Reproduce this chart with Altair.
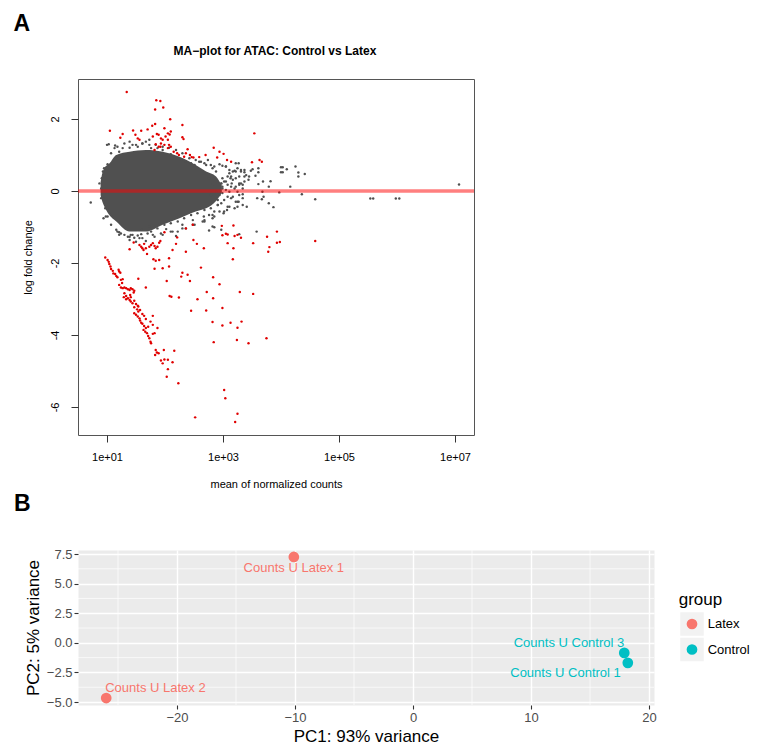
import altair as alt
import pandas as pd

FONT = "Liberation Sans"

# ---------------- Panel A: MA-plot ----------------
# x values are log10(mean of normalized counts), y values are log fold changes
# envelope of the solid, saturated part of the non-significant cloud
core_log10_mean = [0.89, 0.92, 0.95, 1.04, 1.16, 1.39, 1.67, 1.96, 2.25, 2.53, 2.71, 2.88, 2.98]
core_lfc_upper = [0.25, 0.50, 0.62, 0.76, 1.00, 1.09, 1.14, 1.09, 0.95, 0.72, 0.54, 0.40, 0.15]
core_lfc_lower = [-0.12, -0.30, -0.42, -0.67, -0.85, -1.13, -1.13, -0.94, -0.76, -0.57, -0.48, -0.28, -0.05]

gray_log10_mean = [
    5.54, 5.59, 5.98, 6.04, 7.07,
    4.59, 4.36, 4.16, 4.25, 4.30, 4.30, 4.41, 4.10, 4.00, 4.03, 4.00, 4.03, 3.97, 3.82, 3.79,
    3.69, 3.61, 3.56, 3.61, 3.61, 3.68, 3.67, 3.59, 3.70, 3.79, 3.87, 3.41, 3.48, 3.51, 3.45,
    3.44, 3.37, 3.37, 3.31, 3.34, 3.27, 3.25, 3.20, 3.07, 3.01, 3.22, 3.27, 3.17, 3.13, 3.15,
    3.22, 3.05, 3.08, 2.97, 2.99, 2.91, 2.97, 2.85, 2.76, 2.82, 2.82, 2.67,
    1.13, 1.18, 1.21, 1.30, 1.39, 1.44, 1.53, 1.61, 1.67, 1.73, 1.76, 1.82, 1.87, 1.96, 2.10,
    2.16, 2.28, 2.36, 2.45, 2.51, 2.59, 2.68, 2.74, 2.79, 2.85, 2.94, 2.99, 3.05, 3.11, 3.20,
    3.25, 3.31, 3.37, 3.14, 3.22, 3.28, 3.34, 3.02, 3.08, 2.99,
    1.01, 1.07, 0.98, 1.18, 1.24, 1.30, 1.36, 1.41, 1.47, 1.53, 1.59, 1.70, 1.76, 1.87, 1.99,
    2.10, 2.22, 2.33, 2.45, 2.56, 2.68, 2.79, 2.91, 3.02, 3.08, 3.14, 3.25, 3.28, 3.34, 2.85,
    2.68, 2.51, 2.36, 2.22, 2.10, 2.02, 1.93, 1.82, 1.61, 1.50, 1.39,
    0.72, 0.87, 1.00, 0.94, 0.90, 0.93,
    1.21, 1.44, 1.59, 1.73, 1.90, 2.19, 2.30, 2.48, 2.68, 2.82, 2.97, 3.28, 3.58,
    1.03, 1.14, 1.07, 1.01, 0.95, 0.91, 0.90, 0.93, 0.97, 1.01, 1.07, 1.16, 1.21, 1.39, 1.56,
    1.67, 1.79, 1.96, 2.13, 2.30, 2.48, 2.65, 2.76, 2.85, 2.94, 3.11, 3.22, 3.34, 3.20, 3.28,
    3.37, 3.31, 3.22, 3.11, 3.05, 2.99, 2.88, 2.82, 2.71, 2.62, 2.53, 2.42, 2.30, 2.19, 2.07,
    1.96, 1.84, 1.73, 1.61, 1.50, 1.39, 1.27,
    2.76, 2.82, 2.88, 2.94, 2.99, 3.05, 3.11, 3.17, 2.82, 2.91, 3.02, 3.08, 3.17, 3.25, 3.34,
    3.40, 2.79, 2.97, 3.14, 3.28,
]
gray_lfc = [
    -0.21, -0.21, -0.21, -0.21, 0.18,
    -0.23, -0.09, 0.12, 0.68, 0.51, 0.40, 0.47, 0.60, 0.66, 0.66, 0.52, 0.52, -0.04, 0.27, 0.12,
    0.26, 0.19, 0.42, 0.52, 0.63, -0.02, -0.23, -0.20, -0.16, -0.34, -0.45, -0.44, 0.56, 0.60, 0.40,
    0.31, 0.58, 0.40, 0.21, -0.09, -0.30, -0.44, -0.48, -0.53, -0.62, 0.77, 0.77, 0.54, 0.35, 0.21,
    0.12, 0.03, -0.16, 0.21, -0.06, -0.25, -0.34, -1.01, -1.10, -0.67, -0.76, -0.71,
    1.19, 1.23, 1.09, 1.32, 1.37, 1.28, 1.23, 1.32, 1.37, 1.42, 1.19, 1.09, 1.19, 1.14, 1.02,
    0.95, 0.86, 0.81, 0.77, 0.72, 0.81, 0.77, 0.86, 0.72, 0.68, 0.74, 0.70, 0.68, 0.58, 0.56,
    0.63, 0.54, 0.52, 0.40, 0.35, 0.21, 0.17, 0.26, 0.17, 0.12,
    -0.48, -0.67, -0.71, -1.13, -1.18, -1.22, -1.27, -1.22, -1.30, -1.24, -1.20, -1.18, -1.13, -1.04, -0.94,
    -0.90, -0.85, -0.76, -0.67, -0.62, -0.53, -0.48, -0.39, -0.57, -0.44, -0.20, -0.30, -0.11, -0.39, -0.71,
    -0.85, -0.94, -1.04, -1.13, -1.13, -1.06, -1.18, -1.27, -1.31, -1.41, -1.36,
    -0.32, 0.21, 1.28, -0.76, -0.20, 0.54,
    -1.15, -1.22, -1.08, -0.99, -0.90, -1.25, -0.94, -0.81, -0.81, -0.99, -1.08, -1.20, -1.13,
    1.30, 1.26, 1.05, 0.74, 0.63, 0.35, 0.07, -0.20, -0.48, -0.71, -0.94, -1.08, -1.22, -1.27, -1.31,
    -1.39, -1.22, -1.22, -1.13, -1.04, -0.94, -0.85, -0.67, -0.57, -0.57, -0.44, -0.30, -0.20, 0.07, 0.17,
    0.26, 0.58, 0.54, 0.49, 0.68, 0.35, 0.54, 0.63, 0.72, 0.81, 0.86, 0.91, 1.05, 1.14, 1.20,
    1.23, 1.28, 1.28, 1.32, 1.28, 1.20, 1.19,
    0.35, 0.17, -0.02, -0.11, 0.07, 0.26, -0.02, -0.16, -0.30, -0.39, -0.25, 0.40, 0.31, -0.02, 0.07,
    0.44, -0.11, 0.21, 0.12, 0.40,
]

red_log10_mean = [
    # diagonal band of strongly reduced peaks
    0.97, 1.01, 1.03, 1.04, 1.06, 1.07, 1.10, 1.11, 1.14, 1.16, 1.18, 1.20, 1.21, 1.23, 1.24,
    1.26, 1.27, 1.21, 1.24, 1.27, 1.30, 1.33, 1.36, 1.39, 1.41, 1.44, 1.47, 1.46, 1.30, 1.33,
    1.36, 1.39, 1.41, 1.44, 1.47, 1.50, 1.53, 1.52, 1.54, 1.47, 1.50, 1.53, 1.56, 1.57, 1.59,
    1.61, 1.64, 1.67, 1.63, 1.66, 1.69, 1.71, 1.73, 1.75, 1.76, 1.79, 1.82, 1.87, 1.71, 1.79,
    1.67, 1.75, 1.79, 1.41, 1.40, 1.29, 1.33, 1.47, 1.54, 1.57, 1.61, 1.64, 1.54, 1.67, 1.84,
    1.86, 1.89, 1.83, 1.93, 1.96, 1.99, 2.05, 2.13, 2.16, 1.98, 2.05, 2.03, 2.23,
    # scattered reduced peaks
    1.46, 1.39, 1.56, 1.59, 1.61, 1.64, 1.63, 1.69, 1.67, 1.73, 1.76, 1.79, 1.82, 1.84, 1.87,
    1.90, 1.92, 1.80, 1.84, 1.90, 1.82, 1.96, 2.07, 2.07, 2.13, 1.99, 2.19, 2.21, 2.36, 2.48,
    2.49, 2.55, 2.36, 2.67, 2.62, 2.83, 2.94, 2.28, 2.30, 2.39, 2.43, 2.03, 2.08, 2.11, 2.24,
    2.45, 2.56, 2.72, 2.83, 2.71, 2.82, 2.99, 2.99, 3.13, 3.25, 3.32, 3.29, 3.52, 3.24, 3.44,
    3.75, 2.84, 2.98, 3.18, 2.99, 3.05, 3.08, 3.20, 3.25, 3.31, 3.08, 3.18, 3.17, 3.52, 3.76,
    3.78, 3.80, 3.93, 3.93, 3.98, 4.59, 3.02, 3.04, 2.52, 3.25, 3.21,
    # increased peaks
    1.34, 1.85, 1.92, 1.83, 1.97, 2.09, 2.30, 1.05, 1.27, 1.23, 1.45, 1.49, 1.53, 1.56, 1.59,
    1.70, 1.78, 1.83, 1.86, 1.79, 1.89, 1.93, 1.99, 2.05, 2.08, 2.10, 2.01, 2.05, 1.96, 1.93,
    1.84, 1.89, 1.92, 1.82, 1.99, 2.07, 2.05, 2.10, 2.15, 2.21, 2.24, 2.30, 2.32, 2.39, 2.36,
    2.33, 2.43, 2.46, 2.49, 2.59, 2.70, 2.84, 2.94, 3.01, 2.90, 3.07, 3.14, 3.54, 3.50, 3.63,
    3.67,
]
red_lfc = [
    -1.85, -1.92, -1.97, -2.03, -2.10, -2.17, -2.22, -2.29, -2.31, -2.36, -2.40, -2.19, -2.24, -2.27, -2.47,
    -2.56, -2.45, -2.61, -2.68, -2.70, -2.68, -2.70, -2.73, -2.75, -2.70, -2.73, -2.77, -2.82, -2.84, -2.92,
    -2.98, -3.03, -3.07, -3.12, -3.05, -3.14, -3.19, -3.29, -3.35, -3.40, -3.44, -3.49, -3.54, -3.60, -3.66,
    -3.69, -3.75, -3.81, -3.86, -3.91, -3.95, -4.03, -4.09, -4.19, -4.23, -3.97, -3.95, -3.81, -3.77, -3.72,
    -3.56, -3.63, -3.47, -2.95, -2.89, -2.95, -3.01, -3.23, -3.21, -3.31, -3.42, -3.47, -2.44, -2.68, -4.42,
    -4.49, -4.51, -4.56, -4.71, -4.79, -4.68, -4.69, -4.76, -4.44, -4.42, -4.95, -5.16, -5.34,
    -1.43, -1.62, -1.50, -1.55, -1.59, -1.47, -1.64, -1.75, -1.59, -1.55, -1.50, -1.45, -1.53, -1.59, -1.55,
    -1.44, -1.39, -1.90, -1.94, -1.92, -2.16, -2.15, -2.10, -1.87, -1.64, -1.15, -1.47, -1.29, -1.04, -0.94,
    -1.36, -1.47, -1.69, -1.59, -2.13, -2.40, -2.59, -2.38, -2.27, -2.33, -2.50, -2.50, -2.92, -2.94, -2.96,
    -3.33, -3.01, -2.81, -2.98, -3.32, -3.64, -3.74, -3.25, -3.66, -3.80, -3.63, -2.81, -2.86, -4.14, -4.23,
    -4.09, -4.20, -0.97, -0.96, -1.23, -1.19, -1.21, -1.25, -1.22, -1.30, -1.45, -1.59, -1.90, -1.45, -1.27,
    -1.69, -1.56, -1.13, -1.44, -1.42, -1.39, -5.53, -5.76, -6.29, -6.19, -6.42,
    2.75, 2.52, 2.50, 2.26, 2.32, 1.99, 1.83, 1.67, 1.58, 1.48, 1.68, 1.56, 1.46, 1.42, 1.67,
    1.71, 1.81, 1.86, 1.58, 1.51, 1.56, 1.46, 1.74, 1.60, 1.57, 1.65, 1.51, 1.42, 1.42, 1.32,
    1.30, 1.23, 1.23, 1.14, 1.28, 1.28, 1.19, 1.23, 1.09, 1.05, 1.00, 1.49, 1.44, 1.16, 1.05,
    0.95, 1.00, 0.94, 0.93, 0.94, 1.00, 1.20, 1.09, 1.03, 0.93, 0.86, 0.81, 1.60, 0.80, 0.86,
    0.81,
]

a_x_ticks = [1, 3, 5, 7]
a_y_ticks = [-6, -4, -2, 0, 2]
a_title = "MA\u2212plot for ATAC: Control vs Latex"
a_xlabel = "mean of normalized counts"
a_ylabel = "log fold change"

# ---------------- Panel B: PCA ----------------
samples = ["Counts U Latex 1", "Counts U Latex 2", "Counts U Control 3", "Counts U Control 1"]
sample_groups = ["Latex", "Latex", "Control", "Control"]
pc1 = [-10.1, -26.0, 17.9, 18.2]
pc2 = [7.25, -4.66, -0.85, -1.69]
groups = ["Latex", "Control"]
group_colors = ["#F8766D", "#00BFC4"]
b_x_major = [-20, -10, 0, 10, 20]
b_x_minor = [-25, -15, -5, 5, 15]
b_y_major = [-5, -2.5, 0, 2.5, 5, 7.5]
b_y_minor = [-3.75, -1.25, 1.25, 3.75, 6.25]
b_xlabel = "PC1: 93% variance"
b_ylabel = "PC2: 5% variance"

A_W, A_H = 396, 356
B_W, B_H = 576, 155

# ================= Panel A =================
core_df = pd.DataFrame({"m": core_log10_mean, "hi": core_lfc_upper, "lo": core_lfc_lower})
gray_df = pd.DataFrame({"m": gray_log10_mean, "lfc": gray_lfc})
red_df = pd.DataFrame({"m": red_log10_mean, "lfc": red_lfc})

xa_scale = alt.Scale(domain=[0.50, 7.328], nice=False, zero=False)
ya_scale = alt.Scale(domain=[-6.78, 3.11], nice=False, zero=False)
xa_axis = alt.Axis(values=a_x_ticks, labelExpr="'1e+0' + datum.value", title=a_xlabel,
                   grid=False, domain=False, ticks=True, tickSize=7, tickColor="#333333", tickWidth=1,
                   labelFont=FONT, labelFontSize=11, labelColor="black", labelPadding=9,
                   titleFont=FONT, titleFontSize=11, titleFontWeight="normal", titleColor="black",
                   titlePadding=16)
ya_axis = alt.Axis(values=a_y_ticks, labelExpr="'' + datum.value", title=a_ylabel,
                   grid=False, domain=False, ticks=True, tickSize=7, tickColor="#333333", tickWidth=1,
                   labelFont=FONT, labelFontSize=11, labelColor="black", labelPadding=11,
                   labelAngle=270, labelAlign="center", labelBaseline="bottom",
                   titleFont=FONT, titleFontSize=11, titleFontWeight="normal", titleColor="black",
                   titlePadding=15.5)

core = alt.Chart(core_df).mark_area(color="#505050", interpolate="monotone").encode(
    x=alt.X("m:Q", scale=xa_scale, axis=xa_axis),
    y=alt.Y("hi:Q", scale=ya_scale, axis=ya_axis),
    y2="lo:Q",
)
gray_pts = alt.Chart(gray_df).mark_circle(color="#505050", size=6, opacity=1).encode(
    x=alt.X("m:Q", scale=xa_scale, axis=xa_axis),
    y=alt.Y("lfc:Q", scale=ya_scale, axis=ya_axis),
)
red_pts = alt.Chart(red_df).mark_circle(color="#E00000", size=6, opacity=1).encode(
    x=alt.X("m:Q", scale=xa_scale, axis=xa_axis),
    y=alt.Y("lfc:Q", scale=ya_scale, axis=ya_axis),
)
zero_line = alt.Chart(pd.DataFrame({"lfc": [0]})).mark_rule(
    color="#FF0000", opacity=0.5, strokeWidth=3.5).encode(
    y=alt.Y("lfc:Q", scale=ya_scale, axis=ya_axis),
)
a_title_txt = alt.Chart(pd.DataFrame({"t": [a_title]})).mark_text(
    font=FONT, fontSize=12, fontWeight="bold", align="center", baseline="alphabetic", color="black"
).encode(text="t:N", x=alt.value(197), y=alt.value(-24))
a_letter = alt.Chart(pd.DataFrame({"t": ["A"]})).mark_text(
    font=FONT, fontSize=23, fontWeight="bold", align="center", baseline="alphabetic", color="black"
).encode(text="t:N", x=alt.value(-56.3), y=alt.value(-48.3))

panel_a = alt.layer(core, gray_pts, red_pts, zero_line, a_title_txt, a_letter).properties(
    width=A_W, height=A_H,
    view=alt.ViewBackground(stroke="#555555", strokeWidth=1, fill="white"),
)

# ================= Panel B =================
pca_df = pd.DataFrame({"sample": samples, "group": sample_groups, "PC1": pc1, "PC2": pc2})
xb_scale = alt.Scale(domain=[-28.39, 20.42], nice=False, zero=False)
yb_scale = alt.Scale(domain=[-5.25, 7.84], nice=False, zero=False)
color_scale = alt.Scale(domain=groups, range=group_colors)

common_b = dict(domain=False, ticks=True, tickSize=4, tickColor="#333333", tickWidth=1.1,
                grid=True, gridColor="white", gridWidth=1.4,
                labelFont=FONT, labelFontSize=13, labelColor="#4D4D4D",
                titleFont=FONT, titleFontSize=17, titleFontWeight="normal", titleColor="black")
xb_axis = alt.Axis(values=b_x_major, format="d", title=b_xlabel, labelPadding=2.7, titlePadding=3.9, **common_b)
yb_axis = alt.Axis(values=b_y_major, format=".1f", title=b_ylabel, labelPadding=2, titlePadding=3.4, **common_b)

xb = alt.X("PC1:Q", scale=xb_scale, axis=xb_axis)
yb = alt.Y("PC2:Q", scale=yb_scale, axis=yb_axis)

minor_x = alt.Chart(pd.DataFrame({"PC1": b_x_minor})).mark_rule(color="white", strokeWidth=0.7).encode(x=xb)
minor_y = alt.Chart(pd.DataFrame({"PC2": b_y_minor})).mark_rule(color="white", strokeWidth=0.7).encode(y=yb)
pts_b = alt.Chart(pca_df).mark_circle(size=115, opacity=1).encode(
    x=xb, y=yb, color=alt.Color("group:N", scale=color_scale, legend=None))

label_style = {
    "Counts U Latex 1": dict(align="center", dx=0, dy=11),
    "Counts U Latex 2": dict(align="left", dx=-1, dy=-10),
    "Counts U Control 3": dict(align="right", dx=0, dy=-10),
    "Counts U Control 1": dict(align="right", dx=-7, dy=10),
}
label_layers = []
for s in samples:
    st = label_style[s]
    label_layers.append(
        alt.Chart(pca_df).transform_filter(alt.datum.sample == s).mark_text(
            font=FONT, fontSize=13, baseline="middle", **st
        ).encode(x=xb, y=yb, text="sample:N",
                 color=alt.Color("group:N", scale=color_scale, legend=None))
    )

plot_b = alt.layer(minor_x, minor_y, pts_b, *label_layers)

# legend built from the group list
leg_df = pd.DataFrame({"group": groups})
leg_y = alt.Y("group:N", scale=alt.Scale(domain=groups, type="point", range=[74, 99.5], padding=0), axis=None)
leg_keys = alt.Chart(leg_df).mark_square(size=552, color="#F2F2F2", opacity=1).encode(
    x=alt.value(614), y=leg_y)
leg_dots = alt.Chart(leg_df).mark_circle(size=115, opacity=1).encode(
    x=alt.value(614), y=leg_y, color=alt.Color("group:N", scale=color_scale, legend=None))
leg_text = alt.Chart(leg_df).mark_text(font=FONT, fontSize=13, align="left", baseline="middle",
                                       color="black").encode(
    x=alt.value(629.7), y=leg_y, text="group:N")
legend_b = alt.layer(leg_keys, leg_dots, leg_text)

leg_title = alt.Chart(pd.DataFrame({"t": ["group"]})).mark_text(
    font=FONT, fontSize=17, align="left", baseline="alphabetic", color="black"
).encode(text="t:N", x=alt.value(600.7), y=alt.value(54.7))
b_letter = alt.Chart(pd.DataFrame({"t": ["B"]})).mark_text(
    font=FONT, fontSize=23, fontWeight="bold", align="center", baseline="alphabetic", color="black"
).encode(text="t:N", x=alt.value(-55.7), y=alt.value(-38.7))

panel_b = alt.layer(plot_b, legend_b, leg_title, b_letter).resolve_scale(y="independent").properties(
    width=B_W, height=B_H,
    view=alt.ViewBackground(fill="#EBEBEB", stroke="transparent"),
)

chart = alt.concat(panel_a, panel_b, columns=1, spacing=2).properties(
    padding={"left": 4, "top": 4, "right": 0, "bottom": 0},
).configure(font=FONT)

chart.save("out.html", embed_options={"renderer": "svg", "actions": False})
